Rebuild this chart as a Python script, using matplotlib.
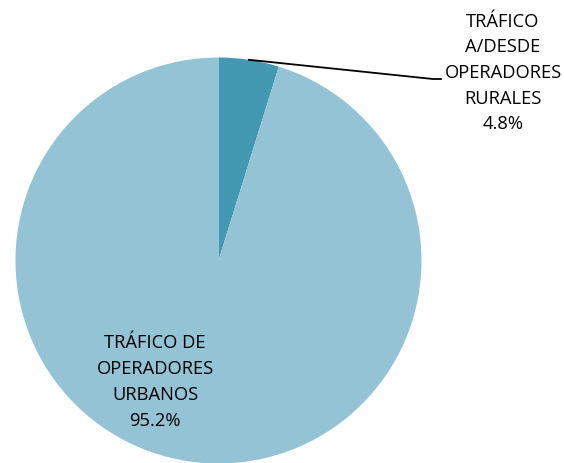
import numpy as np
import matplotlib.pyplot as plt

# Datos
categorias = ['TRÁFICO\nA/DESDE\nOPERADORES\nRURALES', 'TRÁFICO DE\nOPERADORES\nURBANOS']
porcentajes = [4.8, 95.2]
colores = ['#4399B1', '#93C3D5']

W, H = 564, 463
fig = plt.figure(figsize=(W / 100, H / 100), dpi=100)
plt.rcParams['font.family'] = ['Open Sans', 'DejaVu Sans']

# Pie: centro ~ (218.5, 260.5) px, radio ~203 px
cx, cy, r = 218.5, 260.5, 203
ax = fig.add_axes([(cx - r) / W, (H - cy - r) / H, 2 * r / W, 2 * r / H])
wedges, _ = ax.pie(porcentajes, colors=colores, startangle=90, counterclock=False,
                   radius=1, wedgeprops=dict(linewidth=0))
ax.set_xlim(-1, 1)
ax.set_ylim(-1, 1)
ax.set_aspect('equal')
ax.axis('off')

fs = 13.2
ls = 1.55
# Etiqueta del sector pequeño con línea guía
w0 = wedges[0]
ang = np.deg2rad((w0.theta1 + w0.theta2) / 2)
x0, y0 = np.cos(ang), np.sin(ang)
xa = (433 - cx) / r
ya = (cy - 79) / r
xb = (441 - cx) / r
ax.plot([x0, xa, xb], [y0, ya, ya], color='black', lw=1.3, clip_on=False)
fig.text(503 / W, 1 - 73 / H, f'{categorias[0]}\n{porcentajes[0]}%', ha='center',
         va='center', fontsize=fs, linespacing=ls)

# Etiqueta del sector grande
fig.text(155 / W, 1 - 382 / H, f'{categorias[1]}\n{porcentajes[1]}%', ha='center',
         va='center', fontsize=fs, linespacing=ls)

fig.savefig('out.png', dpi=100)
